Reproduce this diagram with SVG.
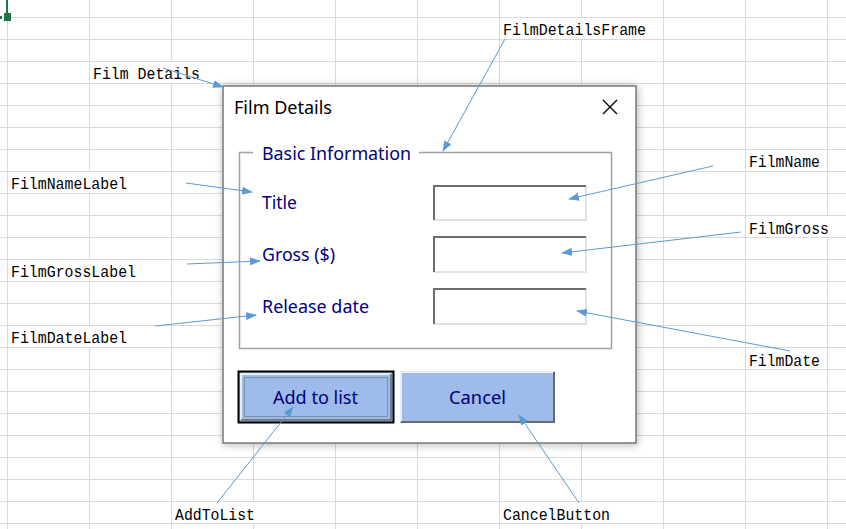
<svg xmlns="http://www.w3.org/2000/svg" width="846" height="529" viewBox="0 0 846 529">
<style>
.grid line{stroke:#d9d9d9;stroke-width:1}
.ann{font-family:"Liberation Mono","DejaVu Sans Mono",monospace;font-size:16.5px;fill:#000}
.ui{font-family:"Noto Sans","Open Sans",sans-serif;font-size:18px;fill:#000080}
.conn line{stroke:#5B9BD5;stroke-width:1;marker-end:url(#ah)}
.tb-dark{stroke:#6e6e6e;stroke-width:2}
.tb-light{stroke:#e3e3e3;stroke-width:2}
</style>
<defs>
<marker id="ah" markerUnits="userSpaceOnUse" markerWidth="11" markerHeight="8" refX="10" refY="4" orient="auto">
<path d="M0,0 L11,4 L0,8 z" fill="#5B9BD5"/>
</marker>
<filter id="sh" x="-10%" y="-10%" width="120%" height="120%">
<feDropShadow dx="1" dy="1" stdDeviation="4" flood-color="#000" flood-opacity="0.3"/>
</filter>
</defs>
<rect width="846" height="529" fill="#fff"/>
<g class="grid">
<line x1="7.5" y1="0" x2="7.5" y2="529"/><line x1="89.5" y1="0" x2="89.5" y2="529"/><line x1="171.5" y1="0" x2="171.5" y2="529"/><line x1="253.5" y1="0" x2="253.5" y2="529"/><line x1="335.5" y1="0" x2="335.5" y2="529"/><line x1="417.5" y1="0" x2="417.5" y2="529"/><line x1="499.5" y1="0" x2="499.5" y2="529"/><line x1="581.5" y1="0" x2="581.5" y2="529"/><line x1="663.5" y1="0" x2="663.5" y2="529"/><line x1="745.5" y1="0" x2="745.5" y2="529"/><line x1="827.5" y1="0" x2="827.5" y2="529"/>
<line x1="0" y1="17.5" x2="846" y2="17.5"/><line x1="0" y1="39.5" x2="846" y2="39.5"/><line x1="0" y1="61.5" x2="846" y2="61.5"/><line x1="0" y1="83.5" x2="846" y2="83.5"/><line x1="0" y1="105.5" x2="846" y2="105.5"/><line x1="0" y1="127.5" x2="846" y2="127.5"/><line x1="0" y1="149.5" x2="846" y2="149.5"/><line x1="0" y1="171.5" x2="846" y2="171.5"/><line x1="0" y1="193.5" x2="846" y2="193.5"/><line x1="0" y1="215.5" x2="846" y2="215.5"/><line x1="0" y1="237.5" x2="846" y2="237.5"/><line x1="0" y1="259.5" x2="846" y2="259.5"/><line x1="0" y1="281.5" x2="846" y2="281.5"/><line x1="0" y1="303.5" x2="846" y2="303.5"/><line x1="0" y1="325.5" x2="846" y2="325.5"/><line x1="0" y1="347.5" x2="846" y2="347.5"/><line x1="0" y1="369.5" x2="846" y2="369.5"/><line x1="0" y1="391.5" x2="846" y2="391.5"/><line x1="0" y1="413.5" x2="846" y2="413.5"/><line x1="0" y1="435.5" x2="846" y2="435.5"/><line x1="0" y1="457.5" x2="846" y2="457.5"/><line x1="0" y1="479.5" x2="846" y2="479.5"/><line x1="0" y1="501.5" x2="846" y2="501.5"/><line x1="0" y1="523.5" x2="846" y2="523.5"/>
</g>
<g id="cell-cursor" fill="#217346">
<rect x="6" y="0" width="2" height="14"/>
<rect x="4" y="13" width="7" height="8"/>
<rect x="0" y="16" width="2" height="3"/>
</g>
<g id="dialog">
<rect x="223" y="86" width="413" height="357" fill="#fff" stroke="#777" stroke-width="1.5" filter="url(#sh)"/>
<text x="234" y="114" font-family="Noto Sans,Open Sans,sans-serif" font-size="17.5" fill="#000" textLength="98" lengthAdjust="spacingAndGlyphs">Film Details</text>
<path d="M603,100 L617,114 M617,100 L603,114" stroke="#000" stroke-width="1.4" fill="none"/>
</g>
<g id="DetailsFrame">
<rect x="239.5" y="152.5" width="372" height="196" fill="none" stroke="#a0a0a0" stroke-width="1.5"/>
<rect x="253" y="148" width="166" height="8" fill="#fff"/>
<text class="ui" x="262" y="160" textLength="149" lengthAdjust="spacingAndGlyphs">Basic Information</text>
</g>
<g id="FilmNameLabel"><text class="ui" x="262" y="209" textLength="35" lengthAdjust="spacingAndGlyphs">Title</text></g>
<g id="FilmGrossLabel"><text class="ui" x="262" y="261" textLength="73" lengthAdjust="spacingAndGlyphs">Gross ($)</text></g>
<g id="FilmDateLabel"><text class="ui" x="262" y="313" textLength="107" lengthAdjust="spacingAndGlyphs">Release date</text></g>
<g id="FilmName">
<rect x="433" y="185" width="154" height="36" fill="#fff"/>
<path class="tb-light" d="M434,220 H586 V186" fill="none"/>
<path class="tb-dark" d="M434,220 V186 H586" fill="none"/>
</g>
<g id="FilmGross">
<rect x="433" y="236" width="154" height="37" fill="#fff"/>
<path class="tb-light" d="M434,272 H586 V237" fill="none"/>
<path class="tb-dark" d="M434,272 V237 H586" fill="none"/>
</g>
<g id="FilmDate">
<rect x="433" y="288" width="154" height="37" fill="#fff"/>
<path class="tb-light" d="M434,324 H586 V289" fill="none"/>
<path class="tb-dark" d="M434,324 V289 H586" fill="none"/>
</g>
<g id="AddToList">
<rect x="238.5" y="371.5" width="155" height="51" fill="#9FBBE9" stroke="#000" stroke-width="2"/>
<path d="M241,420 V374 H391" stroke="#fff" stroke-width="1.5" fill="none"/>
<path d="M241,420 H391 V374" stroke="#696969" stroke-width="1.5" fill="none"/>
<rect x="244.5" y="377.5" width="143" height="39" fill="none" stroke="#4d6b5a" stroke-width="1" stroke-dasharray="1,1"/>
<text class="ui" x="273" y="404" textLength="85" lengthAdjust="spacingAndGlyphs">Add to list</text>
</g>
<g id="CancelButton">
<rect x="400" y="371" width="155" height="52" fill="#9FBBE9"/>
<path d="M401,422 V372 H554" stroke="#fff" stroke-width="1.5" fill="none"/>
<path d="M401,422 H554 V372" stroke="#696969" stroke-width="2" fill="none"/>
<text class="ui" x="449" y="404" textLength="57" lengthAdjust="spacingAndGlyphs">Cancel</text>
</g>
<g id="annotations">
<rect x="92" y="62" width="110" height="21" fill="#fff"/>
<text class="ann" x="93" y="79" textLength="107" lengthAdjust="spacingAndGlyphs">Film Details</text>
<rect x="502" y="18" width="146" height="21" fill="#fff"/>
<text class="ann" x="503" y="35" textLength="143" lengthAdjust="spacingAndGlyphs">FilmDetailsFrame</text>
<rect x="748" y="150" width="74" height="21" fill="#fff"/>
<text class="ann" x="749" y="167" textLength="71" lengthAdjust="spacingAndGlyphs">FilmName</text>
<rect x="748" y="216" width="83" height="21" fill="#fff"/>
<text class="ann" x="749" y="234" textLength="80" lengthAdjust="spacingAndGlyphs">FilmGross</text>
<rect x="748" y="348" width="74" height="21" fill="#fff"/>
<text class="ann" x="749" y="366" textLength="71" lengthAdjust="spacingAndGlyphs">FilmDate</text>
<rect x="10" y="172" width="119" height="21" fill="#fff"/>
<text class="ann" x="11" y="189" textLength="116" lengthAdjust="spacingAndGlyphs">FilmNameLabel</text>
<rect x="10" y="260" width="128" height="21" fill="#fff"/>
<text class="ann" x="11" y="277" textLength="125" lengthAdjust="spacingAndGlyphs">FilmGrossLabel</text>
<rect x="10" y="326" width="119" height="21" fill="#fff"/>
<text class="ann" x="11" y="343" textLength="116" lengthAdjust="spacingAndGlyphs">FilmDateLabel</text>
<rect x="174" y="502" width="83" height="21" fill="#fff"/>
<text class="ann" x="175" y="520" textLength="80" lengthAdjust="spacingAndGlyphs">AddToList</text>
<rect x="502" y="502" width="110" height="21" fill="#fff"/>
<text class="ann" x="503" y="520" textLength="107" lengthAdjust="spacingAndGlyphs">CancelButton</text>
</g>
<g id="connectors" class="conn">
<line x1="163" y1="68" x2="223" y2="87"/>
<line x1="505" y1="39" x2="443" y2="151"/>
<line x1="713" y1="166" x2="569" y2="199"/>
<line x1="741" y1="232" x2="562" y2="253"/>
<line x1="790" y1="351" x2="577" y2="311"/>
<line x1="186" y1="183" x2="252" y2="192"/>
<line x1="187" y1="264" x2="260" y2="261"/>
<line x1="155" y1="326" x2="256" y2="315"/>
<line x1="217" y1="503" x2="293" y2="407"/>
<line x1="579" y1="503" x2="519" y2="415"/>
</g>
</svg>
